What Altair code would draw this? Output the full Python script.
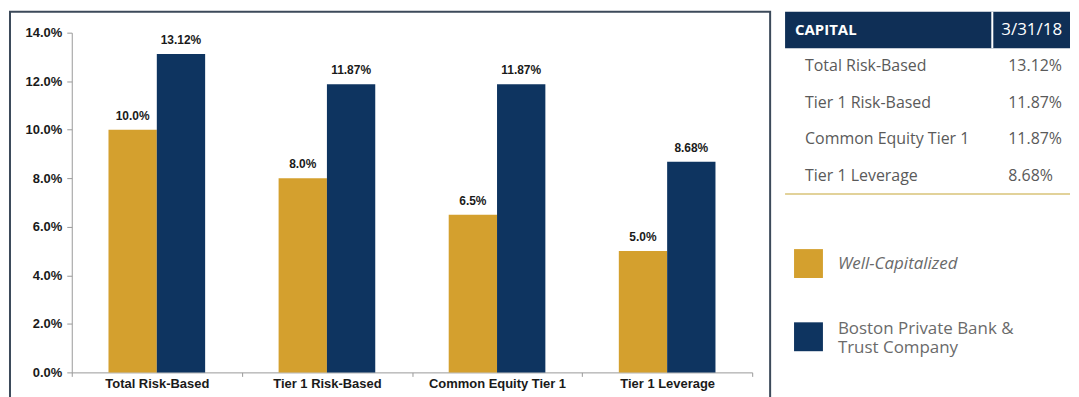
import altair as alt
import pandas as pd

# ---------------- data ----------------
categories = ["Total Risk-Based", "Tier 1 Risk-Based", "Common Equity Tier 1", "Tier 1 Leverage"]
series = ["Well-Capitalized", "Boston Private Bank & Trust Company"]
well_capitalized = [10.0, 8.0, 6.5, 5.0]
boston_private = [13.12, 11.87, 11.87, 8.68]
y_ticks = [0, 2, 4, 6, 8, 10, 12, 14]

table_header = ["CAPITAL", "3/31/18"]
table_rows = ["Total Risk-Based", "Tier 1 Risk-Based", "Common Equity Tier 1", "Tier 1 Leverage"]
table_values = ["13.12%", "11.87%", "11.87%", "8.68%"]
legend_labels = ["Well-Capitalized", "Boston Private Bank &\nTrust Company"]

GOLD = "#D4A02E"
NAVY = "#0E3460"
HEADER = "#0F2F56"
FRAME = "#3C4A5A"
LINE_GOLD = "#E2D29A"
AXIS_GRAY = "#9A9A9A"
TEXT_GRAY = "#5A5A5A"

bar_rows = []
for c, w, b in zip(categories, well_capitalized, boston_private):
    bar_rows.append({"category": c, "series": series[0], "value": w, "label": f"{w:.1f}%"})
    bar_rows.append({"category": c, "series": series[1], "value": b, "label": f"{b:.2f}%"})
bars_df = pd.DataFrame(bar_rows)

# ---------------- bar chart ----------------
BOX_H = 396
x_enc = alt.X(
    "category:N",
    sort=categories,
    scale=alt.Scale(range=[62, 745], paddingInner=0, paddingOuter=0),
    axis=alt.Axis(
        title=None,
        labelAngle=0,
        tickBand="extent",
        offset=362 - BOX_H,
        domainColor=AXIS_GRAY,
        tickColor=AXIS_GRAY,
        tickSize=4,
        labelPadding=1,
        labelFont="Liberation Sans",
        labelFontSize=13,
        labelFontWeight="bold",
        labelColor="#1a1a1a",
        labelLimit=200,
    ),
)
xo_enc = alt.XOffset("series:N", sort=series, scale=alt.Scale(paddingOuter=0.76, paddingInner=0))
y_enc = alt.Y(
    "value:Q",
    scale=alt.Scale(domain=[0, 14], range=[362, 21], nice=False),
    axis=alt.Axis(
        title=None,
        values=y_ticks,
        labelExpr="format(datum.value, '.1f') + '%'",
        offset=-62,
        grid=False,
        domainColor=AXIS_GRAY,
        tickColor=AXIS_GRAY,
        tickSize=5,
        labelPadding=5,
        labelFont="Liberation Sans",
        labelFontSize=13,
        labelFontWeight="bold",
        labelColor="#1a1a1a",
    ),
)

bars = alt.Chart(bars_df).mark_bar().encode(
    x=x_enc,
    xOffset=xo_enc,
    y=y_enc,
    color=alt.Color("series:N", scale=alt.Scale(domain=series, range=[GOLD, NAVY]), legend=None),
)
bar_labels = alt.Chart(bars_df).mark_text(
    dy=-14, font="Liberation Sans", fontSize=12, fontWeight="bold", color="#1a1a1a"
).encode(x=x_enc, xOffset=xo_enc, y=y_enc, text="label:N")

bar_chart = alt.layer(bars, bar_labels).properties(
    width=763,
    height=BOX_H,
    view=alt.ViewBackground(stroke=FRAME, strokeWidth=2),
)

# ---------------- table ----------------
TW = 286
row_domain = [table_header[0]] + table_rows
yt = alt.Scale(domain=row_domain, paddingInner=0, paddingOuter=0)

head_df = pd.DataFrame({"row": [table_header[0]], "c1": [table_header[0]], "c2": [table_header[1]]})
body_df = pd.DataFrame({"row": table_rows, "value": table_values})
last_df = pd.DataFrame({"row": [table_rows[-1]]})

head_rect = alt.Chart(head_df).mark_rect(color=HEADER).encode(
    y=alt.Y("row:N", scale=yt, axis=None), x=alt.value(0), x2=alt.value(TW)
)
head_div = alt.Chart(head_df).mark_rect(color="white").encode(
    y=alt.Y("row:N", scale=yt, axis=None), x=alt.value(207), x2=alt.value(209)
)
head_t1 = alt.Chart(head_df).mark_text(
    align="left", font="Open Sans", fontSize=15, fontWeight="bold", color="white"
).encode(y=alt.Y("row:N", scale=yt, axis=None), x=alt.value(10), text="c1:N")
head_t2 = alt.Chart(head_df).mark_text(
    align="left", font="Open Sans", fontSize=17, color="white"
).encode(y=alt.Y("row:N", scale=yt, axis=None), x=alt.value(217), text="c2:N")
row_lbl = alt.Chart(body_df).mark_text(
    align="left", font="Open Sans", fontSize=16, color=TEXT_GRAY
).encode(y=alt.Y("row:N", scale=yt, axis=None), x=alt.value(20), text="row:N")
row_val = alt.Chart(body_df).mark_text(
    align="left", font="Open Sans", fontSize=16, color=TEXT_GRAY
).encode(y=alt.Y("row:N", scale=yt, axis=None), x=alt.value(224), text="value:N")
gold_rule = alt.Chart(last_df).mark_rule(color=LINE_GOLD, strokeWidth=2).encode(
    y=alt.Y("row:N", scale=yt, axis=None, bandPosition=1), x=alt.value(0), x2=alt.value(TW)
)

table = alt.layer(head_rect, head_div, head_t1, head_t2, row_lbl, row_val, gold_rule).properties(
    width=TW, height=183, view=alt.ViewBackground(stroke="transparent", strokeWidth=0)
)

# ---------------- legend ----------------
leg_df = pd.DataFrame({"series": series, "label": legend_labels})
yl = alt.Scale(domain=series, range=[22, 169], paddingInner=0, paddingOuter=0)

leg_sq = alt.Chart(leg_df).mark_point(shape="square", filled=True, size=841, opacity=1).encode(
    y=alt.Y("series:N", scale=yl, axis=None),
    x=alt.value(23.5),
    color=alt.Color("series:N", scale=alt.Scale(domain=series, range=[GOLD, NAVY]), legend=None),
)
leg_t1 = alt.Chart(leg_df).transform_filter(
    alt.datum.series == series[0]
).mark_text(
    align="left", font="Open Sans", fontSize=17, fontStyle="italic", color="#6A6A6A"
).encode(y=alt.Y("series:N", scale=yl, axis=None), x=alt.value(53), text="label:N")
leg_t2 = alt.Chart(leg_df).transform_filter(
    alt.datum.series == series[1]
).mark_text(
    align="left", font="Open Sans", fontSize=17, color="#6A6A6A", lineBreak="\n", lineHeight=19, dy=-8
).encode(y=alt.Y("series:N", scale=yl, axis=None), x=alt.value(53), text="label:N")

legend = alt.layer(leg_sq, leg_t1, leg_t2).properties(
    width=TW, height=193, view=alt.ViewBackground(stroke="transparent", strokeWidth=0)
)

right = alt.vconcat(table, legend, spacing=10)

chart = alt.hconcat(bar_chart, right, spacing=13).properties(
    padding={"left": 1, "top": 2, "right": 0, "bottom": 0}
).configure_view(stroke="transparent").configure(background="white")

chart.save("out.html", embed_options={"renderer": "svg", "actions": False})
